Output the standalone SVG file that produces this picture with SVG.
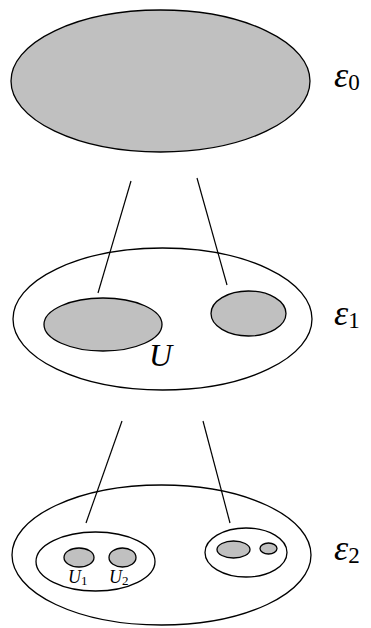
<svg xmlns="http://www.w3.org/2000/svg" width="371" height="628" viewBox="0 0 371 628">
<style>
.o{fill:#fff;stroke:#000;stroke-width:1.3}
.g{fill:#c0c0c0;stroke:#000;stroke-width:1.3}
.c{stroke:#000;stroke-width:1.2;fill:none}
.m{font-family:"Liberation Serif","DejaVu Serif",serif;font-style:italic;fill:#000}
.s{font-family:"Liberation Serif","DejaVu Serif",serif;font-style:normal}
</style>
<rect width="371" height="628" fill="#fff"/>
<g id="e0">
<ellipse class="g" cx="160.5" cy="81" rx="149.5" ry="71"/>
<text class="m" x="334" y="87" font-size="36">ε<tspan class="s" font-size="23" dy="3">0</tspan></text>
</g>
<g id="e1">
<ellipse class="o" cx="162.5" cy="319" rx="149.5" ry="71"/>
<ellipse class="g" cx="103" cy="324.5" rx="59" ry="26.5"/>
<ellipse class="g" cx="248.5" cy="313.5" rx="37.5" ry="22.5"/>
<text class="m" x="149" y="366" font-size="32">U</text>
<text class="m" x="334" y="325" font-size="36">ε<tspan class="s" font-size="23" dy="3">1</tspan></text>
</g>
<g id="e2">
<ellipse class="o" cx="161.5" cy="555" rx="149.5" ry="70"/>
<ellipse class="o" cx="95.5" cy="561.5" rx="59.5" ry="29.5"/>
<ellipse class="g" cx="79" cy="557.5" rx="15" ry="9.5"/>
<ellipse class="g" cx="122.5" cy="557.5" rx="13.5" ry="9.5"/>
<text class="m" x="68" y="583" font-size="18">U<tspan class="s" font-size="13" dy="2">1</tspan></text>
<text class="m" x="109" y="583" font-size="18">U<tspan class="s" font-size="13" dy="2">2</tspan></text>
<ellipse class="o" cx="246" cy="552.5" rx="41" ry="24.5"/>
<ellipse class="g" cx="233.5" cy="549.5" rx="16.5" ry="8.5"/>
<ellipse class="g" cx="268.5" cy="548.5" rx="8.5" ry="5.5"/>
<text class="m" x="334" y="560" font-size="36">ε<tspan class="s" font-size="23" dy="3">2</tspan></text>
</g>
<g id="connectors">
<line class="c" x1="131" y1="181" x2="98" y2="293"/>
<line class="c" x1="197" y1="178" x2="227" y2="285"/>
<line class="c" x1="122" y1="421" x2="86" y2="523"/>
<line class="c" x1="203" y1="421" x2="230" y2="523"/>
</g>
</svg>
